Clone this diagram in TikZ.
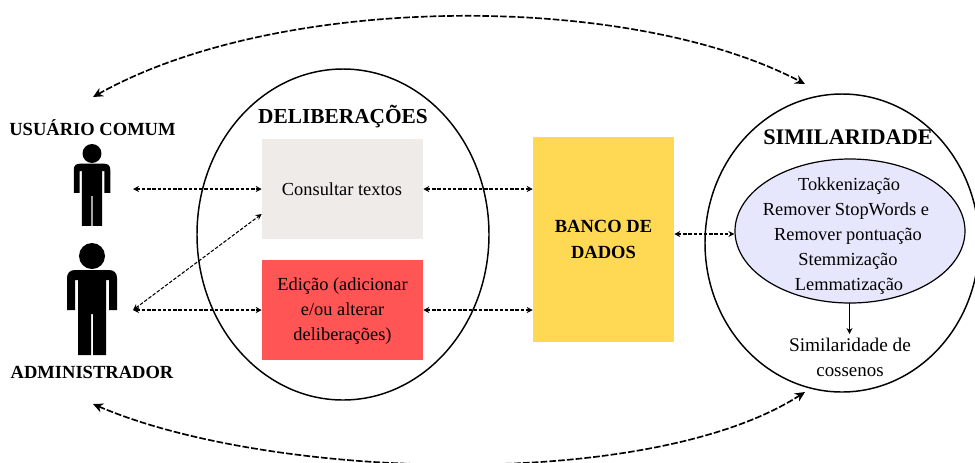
\documentclass[tikz,border=0pt]{standalone}
\usepackage{fontspec}
\setmainfont{Liberation Serif}
\usetikzlibrary{arrows.meta,shapes.geometric}
\newcommand{\bodysize}{\fontsize{13.8pt}{18.75pt}\selectfont}
\newcommand{\labelsize}{\fontsize{13.9pt}{17pt}\selectfont\bfseries}
\tikzset{
  x=0.75pt,y=-0.75pt,
  txt/.style={font=\bodysize,inner sep=0pt,align=center,text=black},
  lbl/.style={font=\labelsize,inner sep=0pt,align=center,text=black},
  ttl/.style={inner sep=0pt,align=center,text=black},
  bigell/.style={ellipse,draw=black,line width=1.1pt,inner sep=0pt},
  boxnode/.style={rectangle,draw=none,inner sep=0pt,font=\bodysize,align=center},
  link/.style={dash pattern=on 2.6pt off 1.3pt,line width=0.8pt,{Stealth[length=4.5pt,width=4.5pt]}-{Stealth[length=4.5pt,width=4.5pt]}},
  swoop/.style={dash pattern=on 5pt off 1.6pt,line width=1.25pt,{Stealth[length=7.5pt,width=7pt]}-{Stealth[length=7.5pt,width=7pt]}},
  personfill/.style={fill=black,draw=none},
}
\newcommand{\personshape}{%
  \fill[personfill] (0,13) circle [radius=13];
  \fill[personfill] (-25,67) -- (-25,35) .. controls (-25,30) and (-22,27) .. (-17,27)
    -- (17,27) .. controls (22,27) and (25,30) .. (25,35) -- (25,67) -- (17,67) -- (17,37)
    -- (14,37) -- (14,112) -- (1,112) -- (1,71) -- (-1,71) -- (-1,112) -- (-14,112)
    -- (-14,37) -- (-17,37) -- (-17,67) -- cycle;
}
\begin{document}
\begin{tikzpicture}
\useasboundingbox (0,0) rectangle (975,462);
% people
\begin{scope}[shift={(92,144)},scale=0.73]\personshape\end{scope}
\begin{scope}[shift={(92,243)}]\personshape\end{scope}
\node[lbl] (ucomum) at (92.5,128) {USUÁRIO COMUM};
\node[lbl] (admin) at (92,372) {ADMINISTRADOR};
\coordinate (ufree) at (133,189);
\coordinate (afree) at (133,310);
% ellipses
\node[bigell,minimum width=219pt,minimum height=248.25pt] (delib) at (343,234.5) {};
\node[bigell,minimum width=205.5pt,minimum height=223.5pt] (simil) at (842,243) {};
\node[ttl,font=\fontsize{16pt}{20pt}\selectfont\bfseries] (tdelib) at (343,117) {DELIBERAÇÕES};
\node[ttl,font=\fontsize{16.7pt}{20pt}\selectfont\bfseries] (tsimil) at (848,137) {SIMILARIDADE};
% boxes
\node[boxnode,fill={rgb,255:red,238;green,235;blue,233},minimum width=120.75pt,minimum height=75pt] (consult) at (342.5,189) {};
\node[txt] (consulttxt) at (342,189) {Consultar textos};
\node[boxnode,fill={rgb,255:red,255;green,85;blue,85},minimum width=120.75pt,minimum height=75pt] (edit) at (342.5,310) {};
\node[txt] (edittxt) at (342.5,311) {Edição (adicionar\\e/ou alterar\\deliberações)};
\node[boxnode,fill={rgb,255:red,255;green,217;blue,84},minimum width=105.75pt,minimum height=153.75pt,font=\labelsize] (db) at (603.5,239.5) {BANCO DE\\[3pt]DADOS};
% inner ellipse
\node[ellipse,draw=black,line width=0.9pt,fill={rgb,255:red,230;green,230;blue,252},inner sep=0pt,minimum width=172.5pt,minimum height=108pt] (proc) at (850,231) {};
\node[txt] (t1) at (849,186) {Tokkenização};
\node[txt] (t2) at (846,211) {Remover StopWords e};
\node[txt] (t3) at (848,236) {Remover pontuação};
\node[txt] (t4) at (848,261) {Stemmização};
\node[txt] (t5) at (849,286) {Lemmatização};
\node[txt,font=\fontsize{14.5pt}{19pt}\selectfont] (cos1) at (850,345) {Similaridade de};
\node[txt,font=\fontsize{14.2pt}{19pt}\selectfont] (cos2) at (850,372) {cossenos};
% connectors
\draw[link] (ufree) -- (consult.west);
\draw[link] (afree) -- (consult.west |- 0,214);
\draw[link] (afree) -- (edit.west);
\draw[link] (consult.east) -- (consult.east -| db.west);
\draw[link] (edit.east) -- (edit.east -| db.west);
\draw[link] (db.east |- 0,234) -- (proc.west |- 0,234);
\draw[line width=1pt,-{Stealth[length=4.5pt,width=4.5pt]}] (849.5,303) -- (849.5,334);
\coordinate (tl) at (93,97);
\coordinate (tr) at (805,84);
\coordinate (bl) at (93,404);
\coordinate (br) at (805,392);
\draw[swoop] (tl) .. controls (280,-8) and (630,-8) .. (tr);
\draw[swoop] (bl) .. controls (270,480) and (650,492) .. (br);
\end{tikzpicture}
\end{document}
